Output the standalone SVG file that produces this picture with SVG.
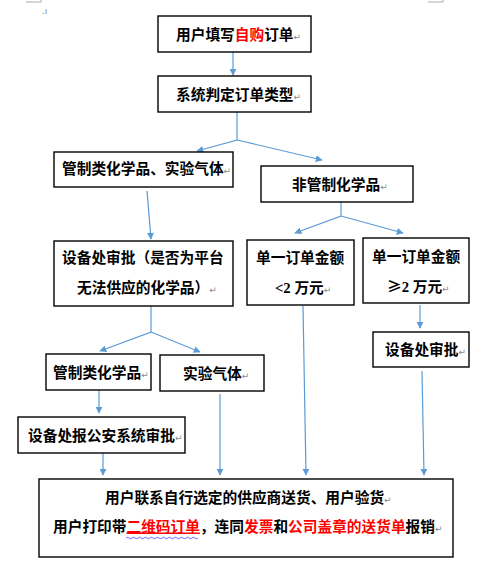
<svg xmlns="http://www.w3.org/2000/svg" width="488" height="577" viewBox="0 0 488 577">
<defs>
<marker id="ah" viewBox="0 0 10 10" refX="9" refY="5" markerWidth="7" markerHeight="7" markerUnits="userSpaceOnUse" orient="auto">
<path d="M0,0 L10,5 L0,10 z" fill="#5B9BD5"/>
</marker>
<style>
.c{fill:none;stroke:#5B9BD5;stroke-width:1.2}
.b{fill:#fff;stroke:#000;stroke-width:1.4}
.t{font-family:"Noto Sans CJK SC","Noto Sans",sans-serif;font-weight:bold;font-size:14.7px;fill:#000}
.r{fill:#f00}
.p{font-family:"DejaVu Sans",sans-serif;font-weight:normal;font-size:9px;fill:#888}
.l{font-family:"Liberation Serif",serif;font-weight:bold}
.m{fill:none;stroke:#aaa;stroke-width:1}
</style>
</defs>
<rect width="488" height="577" fill="#fff"/>
<path class="m" d="M26,2 H41 V0 M428,2 H443 V0"/>
<text x="42" y="14" class="p">.ı</text>
<g id="connectors">
<line class="c" x1="233" y1="52" x2="233" y2="75" marker-end="url(#ah)"/>
<polyline class="c" points="237,112 237,140 197,151" marker-end="url(#ah)"/>
<line class="c" x1="237" y1="140" x2="322" y2="160" marker-end="url(#ah)"/>
<line class="c" x1="147" y1="191" x2="151" y2="239" marker-end="url(#ah)"/>
<polyline class="c" points="341,202 341,216 295,233" marker-end="url(#ah)"/>
<line class="c" x1="341" y1="216" x2="403" y2="233" marker-end="url(#ah)"/>
<polyline class="c" points="151,306 151,332 100,351" marker-end="url(#ah)"/>
<line class="c" x1="151" y1="332" x2="200" y2="352" marker-end="url(#ah)"/>
<line class="c" x1="99" y1="390" x2="99" y2="413" marker-end="url(#ah)"/>
<line class="c" x1="420" y1="305" x2="420" y2="328" marker-end="url(#ah)"/>
<line class="c" x1="103" y1="453" x2="103" y2="475" marker-end="url(#ah)"/>
<line class="c" x1="220" y1="394" x2="220" y2="475" marker-end="url(#ah)"/>
<line class="c" x1="303" y1="306" x2="306" y2="475" marker-end="url(#ah)"/>
<line class="c" x1="422" y1="371" x2="424" y2="475" marker-end="url(#ah)"/>
</g>
<g id="n1">
<rect class="b" x="158" y="16" width="153" height="36"/>
<text class="t" x="176" y="39.5">用户填写<tspan class="r">自购</tspan>订单<tspan class="p">↵</tspan></text>
</g>
<g id="n2">
<rect class="b" x="158" y="76" width="153" height="36"/>
<text class="t" x="176" y="99.5">系统判定订单类型<tspan class="p">↵</tspan></text>
</g>
<g id="n3">
<rect class="b" x="54" y="152" width="179" height="35"/>
<text class="t" x="62" y="173.5">管制类化学品、实验气体<tspan class="p">↵</tspan></text>
</g>
<g id="n4">
<rect class="b" x="261" y="166" width="152" height="36"/>
<text class="t" x="292" y="189.5">非管制化学品<tspan class="p">↵</tspan></text>
</g>
<g id="n5">
<rect class="b" x="54" y="241" width="179" height="65"/>
<text class="t" x="62" y="262.5">设备处审批（是否为平台</text>
<text class="t" x="77" y="292.5">无法供应的化学品）<tspan class="p">↵</tspan></text>
</g>
<g id="n6">
<rect class="b" x="247" y="240" width="107" height="65"/>
<text class="t" x="256" y="262.5">单一订单金额</text>
<text class="t" x="275" y="292.5"><tspan class="l">&lt;2 </tspan>万元<tspan class="p">↵</tspan></text>
</g>
<g id="n7">
<rect class="b" x="363" y="238" width="106" height="65"/>
<text class="t" x="372" y="261.5">单一订单金额</text>
<text class="t" x="387" y="291.5">≥<tspan class="l">2 </tspan>万元<tspan class="p">↵</tspan></text>
</g>
<g id="n8">
<rect class="b" x="46" y="354" width="105" height="36"/>
<text class="t" x="53" y="377.5">管制类化学品<tspan class="p">↵</tspan></text>
</g>
<g id="n9">
<rect class="b" x="160" y="355" width="104" height="36"/>
<text class="t" x="183" y="378.5">实验气体<tspan class="p">↵</tspan></text>
</g>
<g id="n10">
<rect class="b" x="373" y="332" width="96" height="35"/>
<text class="t" x="385" y="354.5">设备处审批<tspan class="p">↵</tspan></text>
</g>
<g id="n11">
<rect class="b" x="18" y="417" width="167" height="36"/>
<text class="t" x="28" y="440.5">设备处报公安系统审批<tspan class="p">↵</tspan></text>
</g>
<g id="n12">
<rect class="b" x="39" y="479" width="414" height="78"/>
<text class="t" x="105" y="502.5">用户联系自行选定的供应商送货、用户验货<tspan class="p">↵</tspan></text>
<text class="t" x="53" y="531.5">用户打印带<tspan class="r" text-decoration="underline">二维码订单</tspan>，连同<tspan class="r">发票</tspan>和<tspan class="r">公司盖章的送货单</tspan>报销<tspan class="p">↵</tspan></text>
<path d="M126,538 q1.5,-1.5 3,0 t3,0 t3,0 t3,0 t3,0 t3,0 t3,0 t3,0 t3,0 t3,0 t3,0 t3,0 t3,0 t3,0 t3,0 t3,0 t3,0 t3,0 t3,0 t3,0 t3,0 t3,0 t3,0 t3,0" fill="none" stroke="#4040ff" stroke-width="0.8"/>
</g>
</svg>
